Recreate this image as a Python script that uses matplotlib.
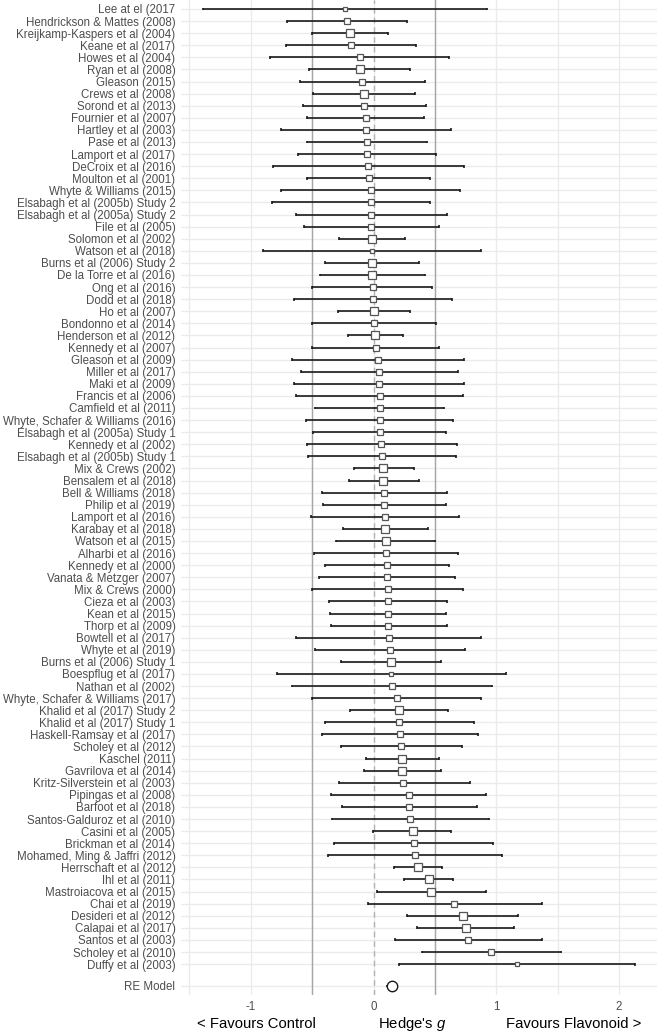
import matplotlib
matplotlib.use("Agg")
import matplotlib.pyplot as plt
import numpy as np

plt.rcParams['font.family'] = ['Liberation Sans', 'DejaVu Sans']
plt.rcParams['mathtext.fontset'] = 'custom'
plt.rcParams['mathtext.it'] = 'Liberation Sans:italic'
plt.rcParams['mathtext.rm'] = 'Liberation Sans'

studies = [
    "Lee at el (2017", "Hendrickson & Mattes (2008)", "Kreijkamp-Kaspers et al (2004)",
    "Keane et al (2017)", "Howes et al (2004)", "Ryan et al (2008)", "Gleason (2015)",
    "Crews et al (2008)", "Sorond et al (2013)", "Fournier et al (2007)", "Hartley et al (2003)",
    "Pase et al (2013)", "Lamport et al (2017)", "DeCroix et al (2016)", "Moulton et al (2001)",
    "Whyte & Williams (2015)", "Elsabagh et al (2005b) Study 2", "Elsabagh et al (2005a) Study 2",
    "File et al (2005)", "Solomon et al (2002)", "Watson et al (2018)", "Burns et al (2006) Study 2",
    "De la Torre et al (2016)", "Ong et al (2016)", "Dodd et al (2018)", "Ho et al (2007)",
    "Bondonno et al (2014)", "Henderson et al (2012)", "Kennedy et al (2007)", "Gleason et al (2009)",
    "Miller et al (2017)", "Maki et al (2009)", "Francis et al (2006)", "Camfield et al (2011)",
    "Whyte, Schafer & Williams (2016)", "Elsabagh et al (2005a) Study 1", "Kennedy et al (2002)",
    "Elsabagh et al (2005b) Study 1", "Mix & Crews (2002)", "Bensalem et al (2018)",
    "Bell & Williams (2018)", "Philip et al (2019)", "Lamport et al (2016)", "Karabay et al (2018)",
    "Watson et al (2015)", "Alharbi et al (2016)", "Kennedy et al (2000)", "Vanata & Metzger (2007)",
    "Mix & Crews (2000)", "Cieza et al (2003)", "Kean et al (2015)", "Thorp et al (2009)",
    "Bowtell et al (2017)", "Whyte et al (2019)", "Burns et al (2006) Study 1", "Boespflug et al (2017)",
    "Nathan et al (2002)", "Whyte, Schafer & Williams (2017)", "Khalid et al (2017) Study 2",
    "Khalid et al (2017) Study 1", "Haskell-Ramsay et al (2017)", "Scholey et al (2012)",
    "Kaschel (2011)", "Gavrilova et al (2014)", "Kritz-Silverstein et al (2003)", "Pipingas et al (2008)",
    "Barfoot et al (2018)", "Santos-Galduroz et al (2010)", "Casini et al (2005)", "Brickman et al (2014)",
    "Mohamed, Ming & Jaffri (2012)", "Herrschaft et al (2012)", "Ihl et al (2011)",
    "Mastroiacova et al (2015)", "Chai et al (2019)", "Desideri et al (2012)", "Calapai et al (2017)",
    "Santos et al (2003)", "Scholey et al (2010)", "Duffy et al (2003)",
]

g = [
    -0.231, -0.214, -0.193, -0.185, -0.114, -0.111, -0.092, -0.079, -0.076, -0.065,
    -0.062, -0.057, -0.052, -0.046, -0.038, -0.024, -0.022, -0.022, -0.019, -0.016,
    -0.014, -0.011, -0.011, -0.008, -0.008, 0.005, 0.008, 0.014, 0.019, 0.035,
    0.046, 0.043, 0.049, 0.049, 0.054, 0.052, 0.062, 0.068, 0.081, 0.081,
    0.087, 0.087, 0.095, 0.095, 0.098, 0.103, 0.106, 0.111, 0.114, 0.119,
    0.119, 0.122, 0.125, 0.133, 0.141, 0.144, 0.152, 0.190, 0.206, 0.209,
    0.212, 0.225, 0.236, 0.236, 0.244, 0.285, 0.293, 0.301, 0.318, 0.326,
    0.339, 0.361, 0.453, 0.472, 0.659, 0.725, 0.752, 0.768, 0.958, 1.170,
]

ci_low = [
    -1.392, -0.708, -0.499, -0.714, -0.844, -0.524, -0.597, -0.491, -0.575, -0.543,
    -0.754, -0.545, -0.613, -0.822, -0.540, -0.752, -0.830, -0.635, -0.567, -0.282,
    -0.904, -0.396, -0.434, -0.497, -0.651, -0.288, -0.497, -0.206, -0.502, -0.665,
    -0.594, -0.649, -0.630, -0.478, -0.548, -0.491, -0.545, -0.532, -0.160, -0.201,
    -0.423, -0.415, -0.507, -0.252, -0.304, -0.483, -0.399, -0.442, -0.502, -0.361,
    -0.353, -0.350, -0.630, -0.478, -0.266, -0.790, -0.662, -0.502, -0.190, -0.393,
    -0.423, -0.266, -0.062, -0.076, -0.285, -0.350, -0.255, -0.339, -0.003, -0.320,
    -0.372, 0.163, 0.252, 0.027, -0.046, 0.274, 0.358, 0.171, 0.399, 0.209,
]

ci_high = [
    0.925, 0.274, 0.114, 0.347, 0.613, 0.299, 0.421, 0.336, 0.431, 0.412,
    0.635, 0.434, 0.510, 0.733, 0.464, 0.703, 0.461, 0.597, 0.537, 0.255,
    0.879, 0.372, 0.421, 0.480, 0.638, 0.301, 0.510, 0.239, 0.537, 0.741,
    0.689, 0.738, 0.725, 0.578, 0.651, 0.589, 0.678, 0.670, 0.328, 0.369,
    0.597, 0.592, 0.695, 0.442, 0.499, 0.689, 0.613, 0.665, 0.727, 0.602,
    0.594, 0.597, 0.879, 0.746, 0.548, 1.077, 0.966, 0.879, 0.605, 0.817,
    0.849, 0.719, 0.535, 0.551, 0.782, 0.917, 0.844, 0.939, 0.635, 0.972,
    1.050, 0.559, 0.651, 0.917, 1.370, 1.178, 1.142, 1.370, 1.525, 2.133,
]

re_label = "RE Model"
re_est = 0.149
re_low = 0.100
re_high = 0.198

x_ticks = [-1, 0, 1, 2]
x_tick_labels = ["-1", "0", "1", "2"]
ref_solid = [-0.5, 0.5]
ref_dashed = 0.0

W, H = 660, 1031
fig = plt.figure(figsize=(W / 100, H / 100), dpi=100)
left_px, right_px, top_px, bot_px = 181, 657, 0, 995
ax = fig.add_axes([left_px / W, 1 - bot_px / H, (right_px - left_px) / W, (bot_px - top_px) / H])

n = len(studies)
row_px = 12.09
ys = -np.arange(n, dtype=float)
y_re = -80.79
ax.set_ylim(-(bot_px - 9) / row_px, 9 / row_px)
ax.set_xlim(-1.568, 2.309)

grid_c = '#EBEBEB'
for xv in np.arange(-1.5, 2.31, 0.5):
    ax.axvline(xv, color=grid_c, lw=1.0, zorder=0)
for yv in list(ys) + [y_re]:
    ax.axhline(yv, color=grid_c, lw=1.0, zorder=0)
for xv in ref_solid:
    ax.axvline(xv, color='#A6A6A6', lw=1.0, zorder=1)
ax.axvline(ref_dashed, color='#B3B3B3', lw=1.0, ls=(0, (4, 3)), zorder=1)

g_a = np.array(g)
lo = np.array(ci_low)
hi = np.array(ci_high)
se = (hi - lo) / 3.92
w = 1.0 / (se ** 2 + 0.099)
side_px = 8.3 * np.sqrt(w / w.max())
ms = side_px * 72 / 100

ax.hlines(ys, lo, hi, color='#1A1A1A', lw=1.2, zorder=2)
cap = 0.12
ax.vlines(lo, ys - cap, ys + cap, color='#1A1A1A', lw=1.2, zorder=2)
ax.vlines(hi, ys - cap, ys + cap, color='#1A1A1A', lw=1.2, zorder=2)
for xi, yi, m in zip(g_a, ys, ms):
    ax.plot([xi], [yi], marker='s', ms=m, mfc='white', mec='#555555', mew=0.9, zorder=3)

ax.hlines([y_re], [re_low], [re_high], color='#1A1A1A', lw=1.2, zorder=2)
ax.plot([re_est], [y_re], marker='o', ms=7.5, mfc='white', mec='#1A1A1A', mew=1.0, zorder=3)

for s in ax.spines.values():
    s.set_visible(False)
ax.set_yticks(list(ys) + [y_re])
ax.set_yticklabels(studies + [re_label], fontsize=8.3, color='#4D4D4D')
ax.set_xticks(x_ticks)
ax.set_xticklabels(x_tick_labels, fontsize=8.3, color='#4D4D4D')
ax.tick_params(axis='both', length=0)
ax.tick_params(axis='y', pad=4)
ax.tick_params(axis='x', pad=4)

ty = 1 - 1024 / H
fig.text(316 / W, ty, "< Favours Control", ha='right', va='center', fontsize=10.7, color='black')
fig.text(378 / W, ty, "Hedge's $g$", ha='left', va='center', fontsize=10.7, color='black')
fig.text(506 / W, ty, "Favours Flavonoid >", ha='left', va='center', fontsize=10.7, color='black')

fig.savefig("out.png", dpi=100)
